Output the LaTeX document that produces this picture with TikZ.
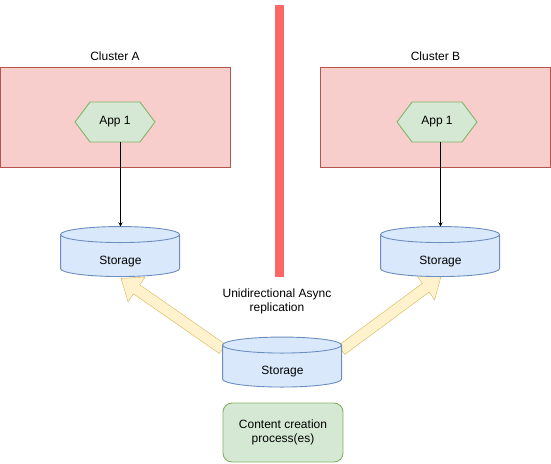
\documentclass[tikz,border=0pt]{standalone}
\usepackage{fontspec}
\setmainfont{Liberation Sans}
\usetikzlibrary{positioning,calc,shapes.symbols,backgrounds}
\definecolor{clusterfill}{RGB}{248,206,204}
\definecolor{clusterline}{RGB}{184,84,80}
\definecolor{greenfill}{RGB}{213,232,212}
\definecolor{greenline}{RGB}{130,179,102}
\definecolor{bluefill}{RGB}{218,232,252}
\definecolor{blueline}{RGB}{108,142,191}
\definecolor{replfill}{RGB}{255,242,204}
\definecolor{replline}{RGB}{214,182,86}
\definecolor{splitred}{RGB}{255,102,102}

% fat replication arrow from #1 to #2
\newcommand{\replarrow}[2]{%
	\coordinate (ra-m) at ($(#2)!19pt!(#1)$);
	\filldraw[repl] ($(#1)!5.5pt!90:(#2)$) -- ($(ra-m)!5.5pt!-90:(#1)$) -- ($(ra-m)!15pt!-90:(#1)$) -- (#2)
		-- ($(ra-m)!15pt!90:(#1)$) -- ($(ra-m)!5.5pt!90:(#1)$) -- ($(#1)!5.5pt!-90:(#2)$) -- cycle;}
% drum outline round a storage node
\newcommand{\drum}[1]{%
	\filldraw[drum] ([yshift=-8pt]#1.north west) -- ++(0,34) arc[start angle=180,end angle=360,x radius=59.5pt,y radius=8pt]
		-- ++(0,-34) arc[start angle=0,end angle=180,x radius=59.5pt,y radius=8pt] -- cycle;
	\draw[drum] ([yshift=-8pt]#1.north west) arc[start angle=180,end angle=360,x radius=59.5pt,y radius=8pt];}

\begin{document}
\begin{tikzpicture}[x=1pt,y=-1pt,line width=0.9pt,font=\fontsize{12}{14}\selectfont,
	cluster/.style={draw=clusterline,fill=clusterfill,minimum width=230pt,minimum height=100pt,inner sep=0pt},
	app/.style={signal,signal to=east and west,signal pointer angle=106,draw=greenline,fill=greenfill,minimum width=80pt,minimum height=40pt,inner sep=0pt},
	storage/.style={minimum width=119pt,minimum height=50pt,inner sep=0pt,text height=28pt,text depth=4pt},
	drum/.style={draw=blueline,fill=bluefill},
	repl/.style={draw=replline,fill=replfill,line join=miter},
	proc/.style={draw=greenline,fill=greenfill,rounded corners=9pt,minimum width=120pt,minimum height=59pt,align=center}]
	\useasboundingbox (0,0) rectangle (551,463);
%	\draw[lightgray] (0,0) grid[step=50] (551,463);
	% the two clusters
	\node[cluster] (clA) at (115,117) {};
	\node[above=2pt of clA] (labA) {Cluster A};
	\node[cluster] (clB) at (435.5,117) {};
	\node[above=2pt of clB] (labB) {Cluster B};
	\node[app] (appA) at (115,122) {App 1};
	\node[app] (appB) at (437,122) {App 1};
	% separator
	\draw[line width=9pt,splitred] (279.5,5) -- (279.5,277);
	\node[storage] (stoA) at (120.5,252) {};
	\node[storage] (stoB) at (440.5,252) {};
	\node[storage] (stoC) at (282.5,362.5) {};
	\drum{stoA} \drum{stoB} \drum{stoC}
	\node[storage] (stoAtxt) at (stoA) {Storage};
	\node[storage] (stoBtxt) at (stoB) {Storage};
	\node[storage] (stoCtxt) at (stoC) {Storage};
	\draw[->,>=stealth] (stoA.north |- appA.south) -- (stoA.north);
	\draw[->,>=stealth] (stoB.north |- appB.south) -- (stoB.north);
	\node[align=center] (note) at (277,301) {Unidirectional Async\\replication};
	\node[proc] (proc) at (283,432.5) {Content creation\\process(es)};
	% replication
	\begin{scope}[on background layer]
		\coordinate (srcA) at ($(stoC.north west)+(0,12)$);
		\coordinate (srcB) at ($(stoC.north east)+(-1,13)$);
		\coordinate (dstA) at ($(stoA.south)+(0.5,1)$);
		\coordinate (dstB) at ($(stoB.south)+(0.5,-1)$);
		\replarrow{srcA}{dstA}
		\replarrow{srcB}{dstB}
	\end{scope}
\end{tikzpicture}
\end{document}
